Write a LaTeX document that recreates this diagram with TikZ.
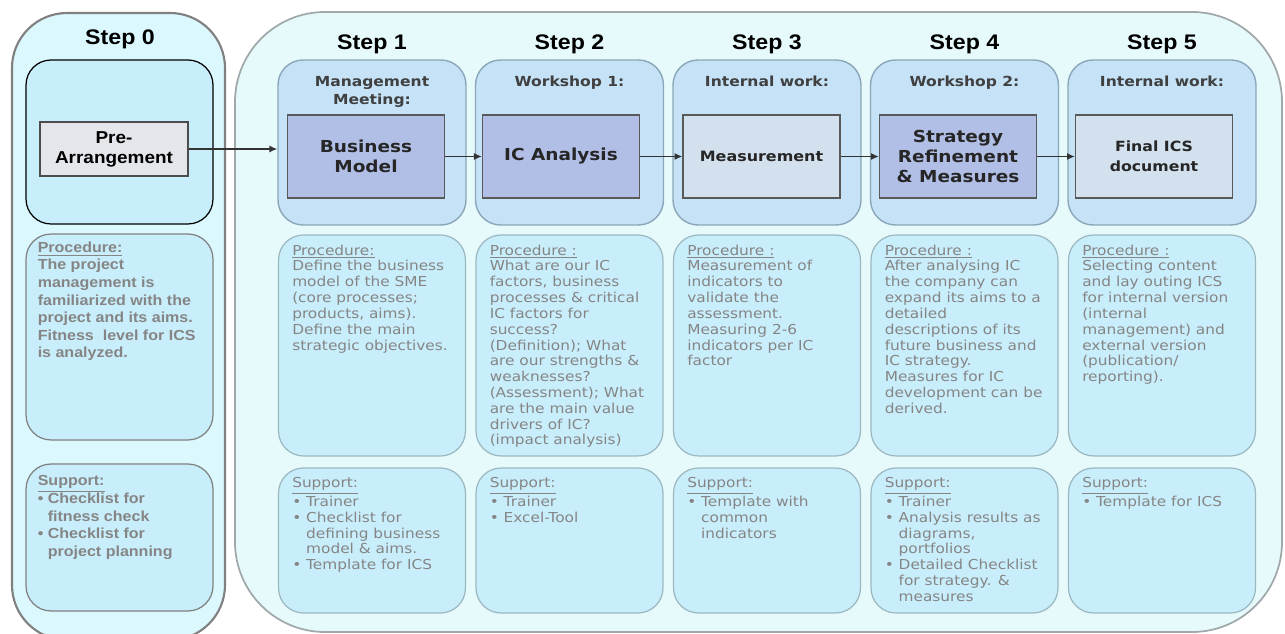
\documentclass[tikz,border=0pt]{standalone}
\usepackage{fontspec}
\setmainfont{Liberation Sans}[FakeStretch=1.1]
\newfontfamily\vfont{DejaVu Sans}[FakeStretch=1.12]
\usepackage{tikz}
\usetikzlibrary{arrows.meta,positioning}

\definecolor{areafill}{HTML}{E6FAFC}
\definecolor{arealine}{HTML}{A0A8AA}
\definecolor{zerofill}{HTML}{DAF8FE}
\definecolor{topfill}{HTML}{C5E2F7}
\definecolor{topline}{HTML}{8AA6B8}
\definecolor{darkin}{HTML}{B1BEE6}
\definecolor{lightin}{HTML}{D3E0EE}
\definecolor{infofill}{HTML}{C9EEFB}
\definecolor{infoline}{HTML}{9BB8C0}
\definecolor{txtgray}{HTML}{858585}
\definecolor{pregray}{HTML}{E4E6EC}

\newcommand{\ind}{\hphantom{\textbullet\ }}

\begin{document}
\begin{tikzpicture}[
    x=0.02cm, y=-0.02cm,
    title/.style={font=\fontsize{12}{14}\selectfont\bfseries},
    stepbox/.style={draw=topline, fill=topfill, line width=0.8pt, rounded corners=0.5cm,
        minimum width=3.76cm, minimum height=3.3cm},
    innerbox/.style={draw=black!65, line width=0.7pt, minimum width=3.14cm, minimum height=1.66cm,
        align=center, text=black!85, font=\vfont\bfseries\fontsize{9.4}{11.4}\selectfont},
    infobox/.style={draw=infoline, fill=infofill, line width=0.7pt, rounded corners=0.5cm,
        minimum width=3.74cm},
    zerobox/.style={draw=gray, fill=infofill, line width=0.7pt, rounded corners=0.5cm,
        minimum width=3.74cm},
    heading/.style={inner sep=0pt, align=center, text=black!75,
        font=\vfont\bfseries\fontsize{7.9}{10.2}\selectfont},
    zerotext/.style={inner sep=0pt, align=left, text=txtgray,
        font=\fontsize{8.3}{10}\selectfont\bfseries},
    proctext/.style={inner sep=0pt, align=left, text=txtgray,
        font=\vfont\fontsize{7.8}{9}\selectfont},
    arr/.style={-{Latex[length=4.5pt,width=4pt]}, line width=0.8pt, black!80}
]
\useasboundingbox (0,0) rectangle (1285,634);

% big area for steps 1-5
\draw[fill=areafill, draw=arealine, line width=1pt, rounded corners=1.8cm] (235,12) rectangle (1282,632);

% step 0
\draw[fill=zerofill, draw=gray, line width=1.2pt, rounded corners=1.1cm] (12,13) rectangle (225,640);
\node[title] (t0) at (120,39) {Step 0};
\node[draw=black, fill=infofill, line width=0.7pt, rounded corners=0.5cm,
    minimum width=3.74cm, minimum height=3.28cm] (s0) at (119.5,142) {};
\node[draw=black!70, fill=pregray, line width=0.7pt, minimum width=2.96cm, minimum height=1.08cm,
    align=center, font=\fontsize{9.8}{11.4}\selectfont\bfseries] (pre) at (114,149) {Pre-\\Arrangement};
\node[zerobox, minimum height=4.12cm] (p0) at (119.5,337) {};
\node[zerobox, minimum height=2.94cm] (u0) at (119.5,537.5) {};
\node[zerotext, below right=0.16cm and 0.24cm of p0.north west] (p0t)
    {\underline{Procedure:}\\The project\\management is\\familiarized with the\\project and its aims.\\Fitness\ \ level for ICS\\is analyzed.};
\node[zerotext, below right=0.24cm and 0.24cm of u0.north west] (u0t)
    {\underline{Support:}\\\textbullet\ Checklist for\\\ind fitness check\\\textbullet\ Checklist for\\\ind project planning};

% steps 1-5, titles and boxes
\node[title] (t1) at (372,44) {Step 1};
\node[title] (t2) at (569.5,44) {Step 2};
\node[title] (t3) at (767,44) {Step 3};
\node[title] (t4) at (964.5,44) {Step 4};
\node[title] (t5) at (1162,44) {Step 5};

\node[stepbox] (s1) at (372,142.5) {};
\node[stepbox] (s2) at (569.5,142.5) {};
\node[stepbox] (s3) at (767,142.5) {};
\node[stepbox] (s4) at (964.5,142.5) {};
\node[stepbox] (s5) at (1162,142.5) {};

\node[heading, below=0.33cm of s1.north] (h1) {Management\\Meeting:};
\node[heading, below=0.33cm of s2.north] (h2) {Workshop 1:};
\node[heading, below=0.33cm of s3.north] (h3) {Internal work:};
\node[heading, below=0.33cm of s4.north] (h4) {Workshop 2:};
\node[heading, below=0.33cm of s5.north] (h5) {Internal work:};

\node[innerbox, fill=darkin] (m1) at (366,156.5) {Business\\Model};
\node[innerbox, fill=darkin] (m2) at (561,156.5) {IC Analysis};
\node[innerbox, fill=lightin, font=\vfont\bfseries\fontsize{8.1}{11.4}\selectfont] (m3) at (761.5,156.5) {Measurement};
\node[innerbox, fill=darkin] (m4) at (958,156.5) {Strategy\\Refinement\\\& Measures};
\node[innerbox, fill=lightin, font=\vfont\bfseries\fontsize{8}{11.4}\selectfont] (m5) at (1154,156.5) {Final ICS\\document};

\draw[arr] (pre.east) -- (pre.east -| s1.west);
\draw[arr] (m1) -- (m2);
\draw[arr] (m2) -- (m3);
\draw[arr] (m3) -- (m4);
\draw[arr] (m4) -- (m5);

% procedure boxes
\node[infobox, minimum height=4.42cm] (p1) at (372,345.5) {};
\node[infobox, minimum height=4.42cm] (p2) at (569.5,345.5) {};
\node[infobox, minimum height=4.42cm] (p3) at (767,345.5) {};
\node[infobox, minimum height=4.42cm] (p4) at (964.5,345.5) {};
\node[infobox, minimum height=4.42cm] (p5) at (1162,345.5) {};

\node[proctext, below right=0.2cm and 0.28cm of p1.north west] (p1t)
    {\underline{Procedure:}\\Define the business\\model of the SME\\(core processes;\\products, aims).\\Define the main\\strategic objectives.};
\node[proctext, below right=0.2cm and 0.28cm of p2.north west] (p2t)
    {\underline{Procedure :}\\What are our IC\\factors, business\\processes \& critical\\IC factors for\\success?\\(Definition); What\\are our strengths \&\\weaknesses?\\(Assessment); What\\are the main value\\drivers of IC?\\(impact analysis)};
\node[proctext, below right=0.2cm and 0.28cm of p3.north west] (p3t)
    {\underline{Procedure :}\\Measurement of\\indicators to\\validate the\\assessment.\\Measuring 2-6\\indicators per IC\\factor};
\node[proctext, below right=0.2cm and 0.28cm of p4.north west] (p4t)
    {\underline{Procedure :}\\After analysing IC\\the company can\\expand its aims to a\\detailed\\descriptions of its\\future business and\\IC strategy.\\Measures for IC\\development can be\\derived.};
\node[proctext, below right=0.2cm and 0.28cm of p5.north west] (p5t)
    {\underline{Procedure :}\\Selecting content\\and lay outing ICS\\for internal version\\(internal\\management) and\\external version\\(publication/\\reporting).};

% support boxes
\node[infobox, minimum height=2.9cm] (u1) at (372,540.5) {};
\node[infobox, minimum height=2.9cm] (u2) at (569.5,540.5) {};
\node[infobox, minimum height=2.9cm] (u3) at (767,540.5) {};
\node[infobox, minimum height=2.9cm] (u4) at (964.5,540.5) {};
\node[infobox, minimum height=2.9cm] (u5) at (1162,540.5) {};

\node[proctext, below right=0.2cm and 0.28cm of u1.north west] (u1t)
    {\underline{Support:}\\\textbullet\ Trainer\\\textbullet\ Checklist for\\\ind defining business\\\ind model \& aims.\\\textbullet\ Template for ICS};
\node[proctext, below right=0.2cm and 0.28cm of u2.north west] (u2t)
    {\underline{Support:}\\\textbullet\ Trainer\\\textbullet\ Excel-Tool};
\node[proctext, below right=0.2cm and 0.28cm of u3.north west] (u3t)
    {\underline{Support:}\\\textbullet\ Template with\\\ind common\\\ind indicators};
\node[proctext, below right=0.2cm and 0.28cm of u4.north west] (u4t)
    {\underline{Support:}\\\textbullet\ Trainer\\\textbullet\ Analysis results as\\\ind diagrams,\\\ind portfolios\\\textbullet\ Detailed Checklist\\\ind for strategy. \&\\\ind measures};
\node[proctext, below right=0.2cm and 0.28cm of u5.north west] (u5t)
    {\underline{Support:}\\\textbullet\ Template for ICS};
\end{tikzpicture}
\end{document}
